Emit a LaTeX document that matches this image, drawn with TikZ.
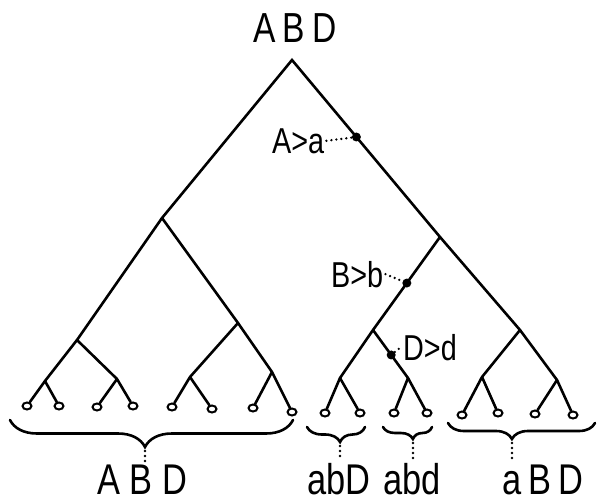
\documentclass[tikz,border=0pt]{standalone}
\usepackage{fontspec}
\setmainfont{Liberation Sans}
\newfontfamily\hand{Liberation Sans}[FakeStretch=0.8]
\usetikzlibrary{shapes.geometric,decorations.pathreplacing}
\begin{document}
\begin{tikzpicture}[x=1pt,y=-1pt,
  edge/.style={line width=2.6pt, line cap=round, line join=round},
  leaf/.style={draw, ellipse, line width=2pt, minimum width=9pt, minimum height=7pt, inner sep=0pt, fill=white},
  mut/.style={circle, fill, minimum size=9pt, inner sep=0pt},
  dots/.style={line width=2.6pt, line cap=round, dash pattern=on 0pt off 5pt},
  lbl/.style={font=\hand\fontsize{43}{43}\selectfont, inner sep=0pt},
  tlbl/.style={font=\hand\fontsize{42}{42}\selectfont, inner sep=0pt},
  mlbl/.style={font=\hand\fontsize{36}{36}\selectfont, inner sep=2pt},
  brc/.style={decorate, decoration={brace, mirror, amplitude=#1}, line width=2.6pt, line cap=round}]
\useasboundingbox (0,0) rectangle (600,503);
% internal nodes
\coordinate (r) at (292,60);
\coordinate (L) at (162,218);
\coordinate (LL) at (77,340);
\coordinate (LLL) at (45,381);
\coordinate (LLR) at (117,379);
\coordinate (LR) at (238,323);
\coordinate (LRL) at (190,377);
\coordinate (LRR) at (272,372);
\coordinate (R) at (440,237);
\coordinate (RL) at (373,330);
\coordinate (RLL) at (340,378);
\coordinate (RLR) at (408,378);
\coordinate (RR) at (520,330);
\coordinate (RRL) at (482,377);
\coordinate (RRR) at (557,380);
% leaves
\foreach \n/\x/\y in {1/27/406,2/59/406,3/97/407,4/133/406,5/172/407,6/212/409,7/253/408,8/292/412,
  9/325/413,10/360/413,11/394/413,12/427/413,13/462/415,14/498/413,15/535/414,16/573/415}
  \node[leaf] (l\n) at (\x,\y) {};
% edges
\draw[edge, line join=miter] (L) -- (r) -- (R);
\draw[edge] (L) -- (LL);
\draw[edge] (L) -- (LR);
\draw[edge] (LL) -- (LLL);
\draw[edge] (LL) -- (LLR);
\draw[edge] (LLL) -- (l1);
\draw[edge] (LLL) -- (l2);
\draw[edge] (LLR) -- (l3);
\draw[edge] (LLR) -- (l4);
\draw[edge] (LR) -- (LRL);
\draw[edge] (LR) -- (LRR);
\draw[edge] (LRL) -- (l5);
\draw[edge] (LRL) -- (l6);
\draw[edge] (LRR) -- (l7);
\draw[edge] (LRR) -- (l8);
\draw[edge] (R) -- (RL);
\draw[edge] (R) -- (RR);
\draw[edge] (RL) -- (RLL);
\draw[edge] (RL) -- (RLR);
\draw[edge] (RLL) -- (l9);
\draw[edge] (RLL) -- (l10);
\draw[edge] (RLR) -- (l11);
\draw[edge] (RLR) -- (l12);
\draw[edge] (RR) -- (RRL);
\draw[edge] (RR) -- (RRR);
\draw[edge] (RRL) -- (l13);
\draw[edge] (RRL) -- (l14);
\draw[edge] (RRR) -- (l15);
\draw[edge] (RRR) -- (l16);
% mutation points
\path (r) -- (R) node[pos=0.435, mut] (dA) {};
\path (R) -- (RL) node[pos=0.495, mut] (dB) {};
\path (RL) -- (RLR) node[pos=0.52, mut] (dD) {};
% labels
\node[tlbl, anchor=base] (top) at (295,43) {A\,B\,D};
\node[mlbl, anchor=base west] (la) at (270,153) {A>a};
\node[mlbl, anchor=base west] (lb) at (329,287) {B>b};
\node[mlbl, anchor=base west] (ld) at (401,360) {D>d};
\draw[dots] (la.east) -- (dA);
\draw[dots] (lb.east) -- (dB);
\draw[dots] (dD) -- (ld.west);
% braces
\draw[brc=27, decoration={aspect=0.477}] (10,420) -- (293,420);
\draw[brc=15, decoration={aspect=0.57}] (307,427) -- (365,427);
\draw[brc=12, decoration={aspect=0.61}] (383,427) -- (432,427);
\draw[brc=16, decoration={aspect=0.435}] (448,423) -- (595,423);
\coordinate (t1) at (145,451);
\coordinate (t2) at (340,446);
\coordinate (t3) at (413,443);
\coordinate (t4) at (512,443);
% bottom labels
\node[lbl, anchor=base] (b1) at (142,494) {A B D};
\node[lbl, anchor=base] (b2) at (339,494) {abD};
\node[lbl, anchor=base] (b3) at (412,494) {abd};
\node[lbl, anchor=base] (b4) at (543,494) {a\,B\,D};
\draw[dots] (t1) -- ([yshift=3pt]t1 |- b1.north);
\draw[dots] (t2) -- ([yshift=3pt]t2 |- b2.north);
\draw[dots] (t3) -- ([yshift=3pt]t3 |- b3.north);
\draw[dots] (t4) -- ([yshift=3pt]t4 |- b4.north);
\end{tikzpicture}
\end{document}
